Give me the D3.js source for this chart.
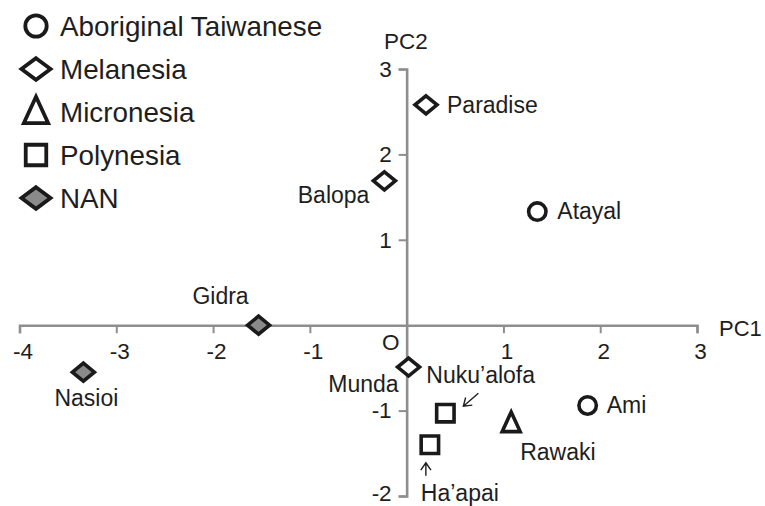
<!DOCTYPE html>
<html>
<head>
<meta charset="utf-8">
<script src="https://cdn.jsdelivr.net/npm/d3@7"></script>
<style>
  html, body { margin: 0; padding: 0; background: #fff; }
  svg { display: block; }
  text { font-family: "Liberation Sans", Arial, sans-serif; fill: #1e1e1e; }
</style>
</head>
<body>
<svg id="chart" width="765" height="506"></svg>
<script>
// ---- data ----
const names  = ["Atayal", "Ami", "Paradise", "Balopa", "Munda", "Rawaki", "Nuku\u2019alofa", "Ha\u2019apai", "Gidra", "Nasioi"];
const groups = ["Aboriginal Taiwanese", "Aboriginal Taiwanese", "Melanesia", "Melanesia", "Melanesia", "Micronesia", "Polynesia", "Polynesia", "NAN", "NAN"];
const pc1    = [1.35, 1.87, 0.20, -0.23, 0.02, 1.08, 0.40, 0.24, -1.53, -3.34];
const pc2    = [1.33, -0.94, 2.58, 1.69, -0.49, -1.15, -1.03, -1.40, 0.00, -0.55];
const legendGroups = ["Aboriginal Taiwanese", "Melanesia", "Micronesia", "Polynesia", "NAN"];
const xTicks = [-4, -3, -2, -1, 1, 2, 3];
const yTicks = [-2, -1, 1, 2, 3];

// ---- layout (label placement relative to marker) ----
const labelPos = {
  "Atayal":       {dx: 20,  dy: 7.5, anchor: "start"},
  "Ami":          {dx: 19,  dy: 7.5, anchor: "start"},
  "Paradise":     {dx: 21,  dy: 8.5, anchor: "start"},
  "Balopa":       {dx: -15, dy: 22,  anchor: "end"},
  "Munda":        {dx: -10, dy: 25,  anchor: "end"},
  "Rawaki":       {dx: 9,   dy: 37,  anchor: "start"},
  "Nuku\u2019alofa": {dx: -19, dy: -30, anchor: "start"},
  "Ha\u2019apai": {dx: -9,  dy: 56.5, anchor: "start"},
  "Gidra":        {dx: -38, dy: -21, anchor: "middle"},
  "Nasioi":       {dx: 3,   dy: 34,  anchor: "middle"}
};
const arrows = {
  "Nuku\u2019alofa": {x1: 33, y1: -20, x2: 18, y2: -7},
  "Ha\u2019apai":    {x1: -4, y1: 31,  x2: -4, y2: 18}
};

const svg = d3.select("#chart");
const x = d3.scaleLinear().domain([-4, 3]).range([19.5, 697]);
const y = d3.scaleLinear().domain([-2, 3]).range([496, 69]);
const axisColor = "#8e8e8e";

// ---- axes ----
const fmt = d => d < 0 ? "-" + Math.abs(d) : d;
const gx = svg.append("g").attr("transform", `translate(0,${y(0)})`)
  .call(d3.axisBottom(x).tickValues(xTicks).tickSize(8).tickSizeOuter(8).tickFormat(fmt));
const gy = svg.append("g").attr("transform", `translate(${x(0)},0)`)
  .call(d3.axisLeft(y).tickValues(yTicks).tickSize(8).tickSizeOuter(8).tickFormat(fmt));
[gx, gy].forEach(g => {
  g.selectAll("path.domain").attr("stroke", axisColor).attr("stroke-width", 2.6);
  g.selectAll(".tick line").attr("stroke", axisColor).attr("stroke-width", 2);
  g.selectAll(".tick text").attr("fill", "#1e1e1e").style("font-size", "22.5px")
    .style("font-family", '"Liberation Sans", Arial, sans-serif');
});
gx.selectAll(".tick text").attr("y", 18).attr("dy", "0.71em").attr("dx", 3);
gy.selectAll(".tick text").attr("x", -15).attr("dy", d => d === -2 ? "0.22em" : "0.32em");

svg.append("text").attr("x", x(0) - 16).attr("y", y(0) + 25).attr("text-anchor", "middle")
  .style("font-size", "22.5px").text("O");
svg.append("text").attr("x", 719).attr("y", 336).style("font-size", "22px").text("PC1");
svg.append("text").attr("x", 384).attr("y", 49).style("font-size", "22.5px").text("PC2");

// ---- symbols ----
function shape(group, s) {
  const p = d3.path();
  if (group === "Aboriginal Taiwanese") {
    const r = 8.7 * s; p.moveTo(r, 0); p.arc(0, 0, r, 0, 2 * Math.PI);
  } else if (group === "Melanesia" || group === "NAN") {
    const w = 11 * s * (s > 1 ? 1.1 : 1), h = 9 * s;
    p.moveTo(0, -h); p.lineTo(w, 0); p.lineTo(0, h); p.lineTo(-w, 0); p.closePath();
  } else if (group === "Micronesia") {
    const w = 9 * s, h = 19.5 * s;
    p.moveTo(0, -h * 0.58); p.lineTo(w, h * 0.42); p.lineTo(-w, h * 0.42); p.closePath();
  } else {
    const a = 8.7 * s; p.rect(-a, -a, 2 * a, 2 * a);
  }
  return p.toString();
}
const fillFor = g => g === "NAN" ? "#8a8a8a" : "#ffffff";

const pts = names.map((n, i) => ({name: n, group: groups[i], px: x(pc1[i]), py: y(pc2[i])}));

// arrows
Object.keys(arrows).forEach(n => {
  const d = pts.find(p => p.name === n), a = arrows[n];
  const x1 = d.px + a.x1, y1 = d.py + a.y1, x2 = d.px + a.x2, y2 = d.py + a.y2;
  const ang = Math.atan2(y2 - y1, x2 - x1), L = 9, spread = 0.6;
  const p = d3.path();
  p.moveTo(x1, y1); p.lineTo(x2, y2);
  p.moveTo(x2 - L * Math.cos(ang - spread), y2 - L * Math.sin(ang - spread));
  p.lineTo(x2, y2);
  p.lineTo(x2 - L * Math.cos(ang + spread), y2 - L * Math.sin(ang + spread));
  svg.append("path").attr("d", p.toString()).attr("fill", "none").attr("stroke", "#1e1e1e").attr("stroke-width", 1.4);
});

svg.append("g").selectAll("path").data(pts).join("path")
  .attr("transform", d => `translate(${d.px},${d.py})`)
  .attr("d", d => shape(d.group, 1))
  .attr("fill", d => fillFor(d.group))
  .attr("stroke", "#1a1a1a").attr("stroke-width", 3.6).attr("stroke-linejoin", "miter");

svg.append("g").selectAll("text").data(pts).join("text")
  .attr("x", d => d.px + labelPos[d.name].dx)
  .attr("y", d => d.py + labelPos[d.name].dy)
  .attr("text-anchor", d => labelPos[d.name].anchor)
  .style("font-size", "23px")
  .text(d => d.name);

// ---- legend ----
const leg = svg.append("g");
legendGroups.forEach((g, i) => {
  const cy = 26 + i * 43;
  leg.append("path").attr("transform", `translate(36,${cy})`)
    .attr("d", shape(g, g === "Aboriginal Taiwanese" ? 1.23 : g === "Polynesia" ? 1.18 : g === "Micronesia" ? 1.35 : 1.2))
    .attr("fill", fillFor(g)).attr("stroke", "#1a1a1a").attr("stroke-width", 3.8);
  leg.append("text").attr("x", 60).attr("y", cy + 10).style("font-size", "27.8px").text(g);
});
</script>
</body>
</html>
